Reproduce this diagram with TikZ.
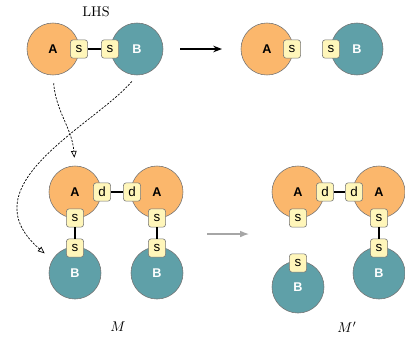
\documentclass[tikz,border=0pt]{standalone}
\usepackage{fontspec}
\newfontfamily\labelfont{Liberation Sans}
\usetikzlibrary{arrows.meta}
\definecolor{agentA}{RGB}{251,183,108}
\definecolor{agentB}{RGB}{95,160,168}
\definecolor{sitefill}{RGB}{255,246,186}

\begin{document}
\begin{tikzpicture}[x=0.025cm,y=-0.025cm,
    agA/.style={circle,draw=black!55,fill=agentA,minimum size=1.3cm,inner sep=0pt,
        font=\labelfont\bfseries\fontsize{9}{9}\selectfont},
    agB/.style={agA,fill=agentB,text=white},
    site/.style={rounded corners=2pt,draw=black!55,fill=sitefill,minimum width=0.43cm,
        minimum height=0.46cm,inner sep=0pt,font=\labelfont\fontsize{9.5}{9.5}\selectfont},
    bond/.style={line width=2pt},
    match/.style={line width=0.5pt,dash pattern=on 1.5pt off 1pt,
        -{Triangle[open,length=1.7mm,width=1.4mm]}}]
    \useasboundingbox (0,0) rectangle (405,337);

    % rule: left hand side
    \node (lhs) at (96,12) {LHS};
    \node[agA] (la) at (53,49) {A};
    \node[agB] (lb) at (137,49) {B};
    \node[site] (las) at (79,49) {s};
    \node[site] (lbs) at (110,49) {s};
    \draw[bond] (las) -- (lbs);

    % rule: right hand side
    \node[agA] (ra) at (267,49) {A};
    \node[agB] (rb) at (357,49) {B};
    \node[site] (ras) at (292,49) {s};
    \node[site] (rbs) at (331,49) {s};

    \coordinate (r1) at (180,49);
    \coordinate (r2) at (222,49);
    \draw[line width=0.8pt,-{Stealth[length=2.2mm]}] (r1) -- (r2);

    % mixture M
    \foreach \i/\x in {1/75,2/157}{
        \node[agA] (ma\i) at (\x,192) {A};
        \node[agB] (mb\i) at (\x,273) {B};
        \node[site] (mas\i) at (\x,218) {s};
        \node[site] (mbs\i) at (\x,248) {s};
        \draw[bond] (mas\i) -- (mbs\i);
    }
    \node[site] (md1) at (102,192) {d};
    \node[site] (md2) at (132,192) {d};
    \draw[bond] (md1) -- (md2);
    \node (m) at (118,327) {$M$};

    % mixture M'
    \node[agA] (na1) at (298,192) {A};
    \node[agA] (na2) at (379,192) {A};
    \node[agB] (nb1) at (298,287) {B};
    \node[agB] (nb2) at (379,273) {B};
    \node[site] (nd1) at (325,192) {d};
    \node[site] (nd2) at (354,192) {d};
    \node[site] (nas1) at (298,218) {s};
    \node[site] (nas2) at (379,218) {s};
    \node[site] (nbs1) at (298,263) {s};
    \node[site] (nbs2) at (379,248) {s};
    \draw[bond] (nd1) -- (nd2);
    \draw[bond] (nas2) -- (nbs2);
    \node (mp) at (347,327) {$M'$};

    \coordinate (g1) at (207,234);
    \coordinate (g2) at (249,234);
    \draw[gray!70,line width=0.8pt,-{Latex[length=2.2mm]}] (g1) -- (g2);

    % embedding of the LHS into M
    \draw[match,shorten <=0.2cm,shorten >=0.2cm] (la.south)
        .. controls (56,112) and (72,128) .. (ma1.north);
    \draw[match,shorten <=0.2cm,shorten >=0.25cm] (lb.south)
        .. controls (95,125) and (-35,185) .. (mb1.150);
\end{tikzpicture}
\end{document}
